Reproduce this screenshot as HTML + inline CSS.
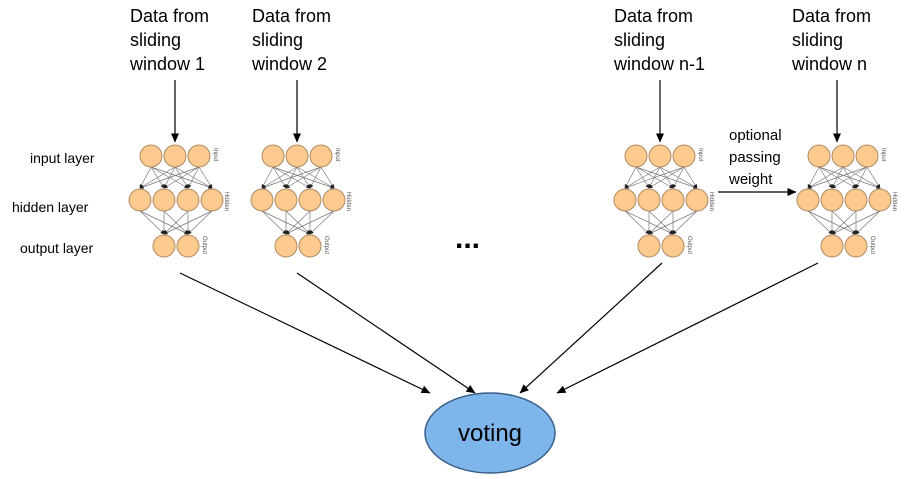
<!DOCTYPE html>
<html><head><style>
body{margin:0;background:#fff;}
svg{display:block;font-family:"Liberation Sans",Arial,sans-serif;}
</style></head><body>
<svg width="910" height="479" viewBox="0 0 910 479" xmlns="http://www.w3.org/2000/svg">
<defs>
<marker id="sa" markerWidth="4" markerHeight="4" refX="3.5" refY="2" orient="auto" markerUnits="userSpaceOnUse"><path d="M0,0 L4,2 L0,4z" fill="#222"/></marker>
<marker id="ba" markerWidth="9" markerHeight="9" refX="8.5" refY="4.5" orient="auto" markerUnits="userSpaceOnUse"><path d="M0,0.5 L9,4.5 L0,8.5z" fill="#000"/></marker>
<g id="net">
<g stroke="#777" stroke-width="0.7" marker-end="url(#sa)">
<line x1="-24" y1="11" x2="-35" y2="32"/><line x1="-24" y1="11" x2="-11" y2="32"/><line x1="-24" y1="11" x2="13" y2="32"/><line x1="-24" y1="11" x2="37" y2="32"/>
<line x1="0" y1="11" x2="-35" y2="32"/><line x1="0" y1="11" x2="-11" y2="32"/><line x1="0" y1="11" x2="13" y2="32"/><line x1="0" y1="11" x2="37" y2="32"/>
<line x1="24" y1="11" x2="-35" y2="32"/><line x1="24" y1="11" x2="-11" y2="32"/><line x1="24" y1="11" x2="13" y2="32"/><line x1="24" y1="11" x2="37" y2="32"/>
<line x1="-35" y1="55" x2="-11" y2="78"/><line x1="-35" y1="55" x2="13" y2="78"/>
<line x1="-11" y1="55" x2="-11" y2="78"/><line x1="-11" y1="55" x2="13" y2="78"/>
<line x1="13" y1="55" x2="-11" y2="78"/><line x1="13" y1="55" x2="13" y2="78"/>
<line x1="37" y1="55" x2="-11" y2="78"/><line x1="37" y1="55" x2="13" y2="78"/>
</g>
<g fill="#fcc98f" stroke="#b08a60" stroke-width="1">
<circle cx="-24" cy="0" r="11"/><circle cx="0" cy="0" r="11"/><circle cx="24" cy="0" r="11"/>
<circle cx="-35" cy="44" r="11"/><circle cx="-11" cy="44" r="11"/><circle cx="13" cy="44" r="11"/><circle cx="37" cy="44" r="11"/>
<circle cx="-11" cy="90" r="11"/><circle cx="13" cy="90" r="11"/>
</g>
<g font-size="6" fill="#555">
<text transform="translate(39,-8) rotate(90)">Input</text>
<text transform="translate(50,36) rotate(90)">Hidden</text>
<text transform="translate(28,80) rotate(90)">Output</text>
</g>
</g>
</defs>
<use href="#net" x="175" y="156"/>
<use href="#net" x="297" y="156"/>
<use href="#net" x="660" y="156"/>
<use href="#net" x="843" y="156"/>
<g font-size="18" fill="#000">
<text x="130" y="22">Data from</text><text x="130" y="46">sliding</text><text x="130" y="70">window 1</text>
<text x="252" y="22">Data from</text><text x="252" y="46">sliding</text><text x="252" y="70">window 2</text>
<text x="614" y="22">Data from</text><text x="614" y="46">sliding</text><text x="614" y="70">window n-1</text>
<text x="792" y="22">Data from</text><text x="792" y="46">sliding</text><text x="792" y="70">window n</text>
</g>
<g stroke="#000" stroke-width="1.2" marker-end="url(#ba)">
<line x1="175" y1="80" x2="175" y2="142"/>
<line x1="297" y1="80" x2="297" y2="142"/>
<line x1="660" y1="80" x2="660" y2="142"/>
<line x1="837" y1="80" x2="837" y2="142"/>
<line x1="718" y1="192" x2="796" y2="192"/>
<line x1="180" y1="273" x2="430" y2="393"/>
<line x1="297" y1="273" x2="475" y2="393"/>
<line x1="662" y1="263" x2="520" y2="393"/>
<line x1="818" y1="263" x2="557" y2="393"/>
</g>
<g font-size="14">
<text x="30" y="163">input layer</text>
<text x="12" y="212">hidden layer</text>
<text x="20" y="253">output layer</text>
</g>
<g font-size="15">
<text x="729" y="140">optional</text><text x="729" y="162">passing</text><text x="729" y="184">weight</text>
</g>
<text x="455" y="248" font-size="30" font-weight="bold">...</text>
<ellipse cx="490" cy="433" rx="65" ry="40" fill="#7eb6ec" stroke="#3a5f8a" stroke-width="1.5"/>
<text x="490" y="441" font-size="24" text-anchor="middle">voting</text>
</svg>
</body></html>
